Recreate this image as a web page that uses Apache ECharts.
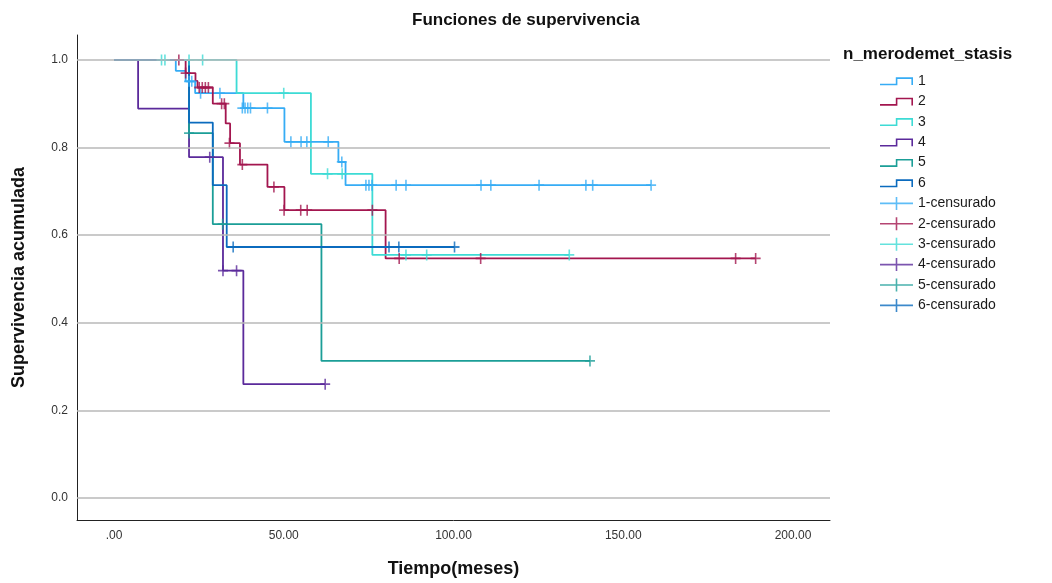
<!DOCTYPE html>
<html>
<head>
<meta charset="utf-8">
<title>Funciones de supervivencia</title>
<script src="https://cdn.jsdelivr.net/npm/echarts@6/dist/echarts.min.js"></script>
<style>
  html, body { margin: 0; padding: 0; background: #fff; }
  #chart { width: 1052px; height: 583px; }
</style>
</head>
<body>
<div id="chart"></div>
<script>
// Kaplan-Meier estimates per group: [time (months), cumulative survival]
const groupNames = ['1', '2', '3', '4', '5', '6'];
const censorSuffix = '-censurado';

const g1Steps = [[0, 1], [18.2, 0.975], [21.1, 0.951], [23.9, 0.924], [38.1, 0.89], [50.2, 0.813], [66.1, 0.767], [68.2, 0.714], [158.2, 0.714]];
const g2Steps = [[0, 1], [21.1, 0.97], [24.0, 0.952], [24.6, 0.937], [29.1, 0.90], [32.9, 0.855], [34.2, 0.81], [37.1, 0.761], [45.2, 0.71], [50.2, 0.657], [80.0, 0.547], [189.0, 0.547]];
const g3Steps = [[0, 1], [36.1, 0.924], [58.0, 0.74], [76.1, 0.555], [134.1, 0.555]];
const g4Steps = [[0, 1], [7.1, 0.889], [22.1, 0.778], [32.1, 0.519], [38.1, 0.26], [62.2, 0.26]];
const g5Steps = [[0, 1], [22.1, 0.833], [29.1, 0.625], [61.1, 0.313], [140.2, 0.313]];
const g6Steps = [[0, 1], [22.1, 0.857], [29.1, 0.714], [33.2, 0.573], [100.3, 0.573]];

// Censored observations: [time, survival at that time]
const g1Censored = [[22.1, 0.951], [22.9, 0.951], [25.5, 0.924], [31.2, 0.924], [37.8, 0.89], [38.6, 0.89], [39.4, 0.89], [40.2, 0.89], [45.2, 0.89],
  [52.1, 0.813], [55.1, 0.813], [56.8, 0.813], [63.1, 0.813], [67.1, 0.767],
  [74.2, 0.714], [75.1, 0.714], [76.0, 0.714], [83.1, 0.714], [86.0, 0.714], [108.1, 0.714], [111.0, 0.714], [125.2, 0.714], [139.0, 0.714], [141.0, 0.714], [158.2, 0.714]];
const g2Censored = [[19.1, 1], [21.1, 0.97], [25.1, 0.937], [26.0, 0.937], [26.9, 0.937], [27.8, 0.937], [31.7, 0.90], [32.5, 0.90], [34.0, 0.81], [37.8, 0.761], [47.1, 0.71],
  [50.1, 0.657], [55.0, 0.657], [56.9, 0.657], [76.1, 0.657], [84.0, 0.547], [108.0, 0.547], [183.1, 0.547], [189.0, 0.547]];
const g3Censored = [[14.0, 1], [15.0, 1], [22.1, 1], [26.1, 1], [50.0, 0.924], [62.9, 0.74], [67.2, 0.74], [86.0, 0.555], [92.1, 0.555], [134.1, 0.555]];
const g4Censored = [[28.2, 0.778], [32.1, 0.519], [36.1, 0.519], [62.2, 0.26]];
const g5Censored = [[22.1, 0.833], [32.0, 0.625], [140.2, 0.313]];
const g6Censored = [[35.1, 0.573], [81.0, 0.573], [83.9, 0.573], [100.3, 0.573]];

const xTickValues = [0, 50, 100, 150, 200];
const yTickValues = [0, 0.2, 0.4, 0.6, 0.8, 1.0];

const groupColors = ['#36acf5', '#a3164f', '#3ddbd5', '#5b2a9b', '#1b9e97', '#0b6bbe'];

const allSteps = [g1Steps, g2Steps, g3Steps, g4Steps, g5Steps, g6Steps];
const allCensored = [g1Censored, g2Censored, g3Censored, g4Censored, g5Censored, g6Censored];

// Legend glyphs (33 x 13 box): a step outline and a censor cross on a line
const stepIcon = 'path://M0,0L0.01,0L0.01,0.01Z M32.99,13L33,13L33,12.99Z ' +
  'M0,9.2L15.8,9.2L15.8,2.8L33,2.8L33,10.6L31.4,10.6L31.4,4.4L17.4,4.4L17.4,10.8L0,10.8Z';
const crossIcon = 'path://M0,5.7L33,5.7L33,7.3L0,7.3Z M15.7,0L17.3,0L17.3,13L15.7,13Z';
const crossSymbol = 'path://M0,4.2L10,4.2L10,5.8L0,5.8Z M4.2,0L5.8,0L5.8,10L4.2,10Z';

const series = [];

// horizontal reference lines behind the curves
series.push({
  name: 'reference',
  type: 'line',
  data: [],
  silent: true,
  z: 1,
  markLine: {
    silent: true,
    symbol: ['none', 'none'],
    label: { show: false },
    lineStyle: { color: '#b8b8b8', width: 1.5, type: 'solid' },
    emphasis: { disabled: true },
    data: yTickValues.map(v => ({ yAxis: v }))
  }
});

groupNames.forEach((g, i) => {
  series.push({
    name: g,
    type: 'line',
    step: 'end',
    data: allSteps[i],
    showSymbol: false,
    symbol: 'none',
    color: groupColors[i],
    lineStyle: { color: groupColors[i], width: 1.8 },
    emphasis: { disabled: true },
    z: 2
  });
});

groupNames.forEach((g, i) => {
  series.push({
    name: g + censorSuffix,
    type: 'scatter',
    data: allCensored[i],
    symbol: crossSymbol,
    symbolSize: [10, 11],
    color: groupColors[i],
    itemStyle: { color: groupColors[i] },
    emphasis: { disabled: true },
    z: 3
  });
});

const legendData = groupNames.map(g => ({ name: g, icon: stepIcon }))
  .concat(groupNames.map(g => ({ name: g + censorSuffix, icon: crossIcon })));

const chart = echarts.init(document.getElementById('chart'), null, { renderer: 'canvas' });
chart.setOption({
  animation: false,
  backgroundColor: '#ffffff',
  textStyle: { fontFamily: 'Liberation Sans, Arial, sans-serif' },
  title: [
    {
      text: 'Funciones de supervivencia',
      left: 407, top: 7,
      textStyle: { fontSize: 17, fontWeight: 'bold', color: '#111', fontFamily: 'Liberation Sans, Arial, sans-serif' }
    },
    {
      text: 'n_merodemet_stasis',
      left: 838, top: 41,
      textStyle: { fontSize: 17, fontWeight: 'bold', color: '#111', fontFamily: 'Liberation Sans, Arial, sans-serif' }
    }
  ],
  legend: {
    orient: 'vertical',
    left: 880,
    top: 74,
    padding: 0,
    itemWidth: 33,
    itemHeight: 13,
    itemGap: 6.4,
    selectedMode: false,
    itemStyle: { borderWidth: 0 },
    textStyle: { fontSize: 14, color: '#1a1a1a', fontFamily: 'Liberation Sans, Arial, sans-serif', lineHeight: 13 },
    data: legendData
  },
  grid: { left: 77, right: 222, top: 35, bottom: 61, containLabel: false },
  xAxis: {
    type: 'value',
    min: -10.9,
    max: 210.9,
    name: 'Tiempo(meses)',
    nameLocation: 'middle',
    nameGap: 40,
    nameTextStyle: { fontSize: 18, fontWeight: 'bold', color: '#111' },
    axisLine: { show: true, onZero: false, lineStyle: { color: '#222', width: 1 } },
    axisTick: { show: false },
    splitLine: { show: false },
    axisLabel: {
      customValues: xTickValues,
      margin: 10,
      fontSize: 12,
      color: '#333',
      formatter: v => (v === 0 ? '.00' : v.toFixed(2))
    }
  },
  yAxis: {
    type: 'value',
    min: -0.05,
    max: 1.0568,
    name: 'Supervivencia acumulada',
    nameLocation: 'middle',
    nameGap: 49,
    nameTextStyle: { fontSize: 18, fontWeight: 'bold', color: '#111' },
    axisLine: { show: true, onZero: false, lineStyle: { color: '#222', width: 1 } },
    axisTick: { show: false },
    splitLine: { show: false },
    axisLabel: {
      customValues: yTickValues,
      margin: 9,
      fontSize: 12,
      color: '#333',
      formatter: v => v.toFixed(1)
    }
  },
  series: series
});
</script>
</body>
</html>
